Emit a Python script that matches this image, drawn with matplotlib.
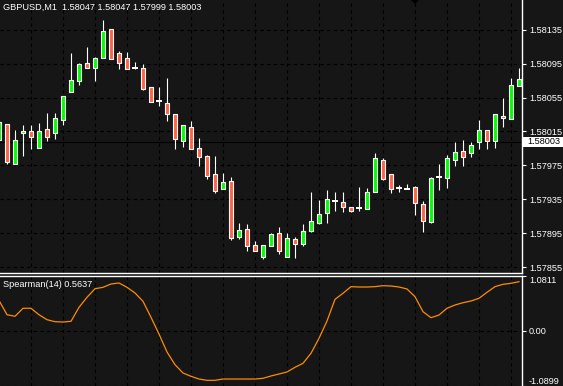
import matplotlib
matplotlib.use('Agg')
import matplotlib.pyplot as plt
from matplotlib.patches import Rectangle, Polygon
from matplotlib.transforms import blended_transform_factory
import numpy as np

plt.rcParams['font.family'] = ['Liberation Sans', 'DejaVu Sans']

symbol_title = "GBPUSD,M1  1.58047 1.58047 1.57999 1.58003"
indicator_title = "Spearman(14) 0.5637"
bid_price = 1.58003
bid_label = "1.58003"

opens = [1.58005, 1.58024, 1.57977, 1.58013, 1.58016, 1.57996, 1.58018, 1.58013, 1.58029, 1.58061,
         1.58075, 1.58096, 1.58090, 1.58102, 1.58136, 1.58107, 1.58101, 1.58090, 1.58090, 1.58067,
         1.58051, 1.58049, 1.58036, 1.58004, 1.58020, 1.57996, 1.57986, 1.57965, 1.57947, 1.57957,
         1.57890, 1.57900, 1.57881, 1.57867, 1.57880, 1.57895, 1.57867, 1.57888, 1.57882, 1.57898,
         1.57907, 1.57919, 1.57933, 1.57932, 1.57926, 1.57925, 1.57923, 1.57944, 1.57981, 1.57965,
         1.57948, 1.57947, 1.57950, 1.57929, 1.57908, 1.57961, 1.57960, 1.57981, 1.57992, 1.57989,
         1.58002, 1.58017, 1.58004, 1.58033, 1.58030, 1.58068]
highs = [1.58027, 1.58024, 1.58017, 1.58023, 1.58023, 1.58025, 1.58037, 1.58037, 1.58057, 1.58108,
         1.58096, 1.58115, 1.58103, 1.58147, 1.58136, 1.58110, 1.58109, 1.58097, 1.58094, 1.58067,
         1.58067, 1.58078, 1.58036, 1.58023, 1.58027, 1.58007, 1.57987, 1.57986, 1.57966, 1.57961,
         1.57907, 1.57906, 1.57886, 1.57881, 1.57895, 1.57902, 1.57895, 1.57890, 1.57906, 1.57944,
         1.57934, 1.57946, 1.57944, 1.57944, 1.57926, 1.57950, 1.57948, 1.57990, 1.57984, 1.57965,
         1.57952, 1.57953, 1.57951, 1.57933, 1.57961, 1.57976, 1.57987, 1.58003, 1.58005, 1.58002,
         1.58029, 1.58017, 1.58036, 1.58054, 1.58078, 1.58090]
lows = [1.58004, 1.57976, 1.57977, 1.57986, 1.57994, 1.57996, 1.58004, 1.58006, 1.58022, 1.58061,
        1.58070, 1.58090, 1.58075, 1.58102, 1.58100, 1.58089, 1.58089, 1.58089, 1.58064, 1.58050,
        1.58045, 1.58027, 1.57994, 1.57997, 1.57994, 1.57974, 1.57959, 1.57942, 1.57947, 1.57887,
        1.57888, 1.57874, 1.57874, 1.57864, 1.57880, 1.57870, 1.57867, 1.57866, 1.57880, 1.57896,
        1.57906, 1.57907, 1.57921, 1.57920, 1.57920, 1.57921, 1.57923, 1.57944, 1.57958, 1.57942,
        1.57944, 1.57947, 1.57916, 1.57896, 1.57907, 1.57946, 1.57948, 1.57974, 1.57974, 1.57985,
        1.57994, 1.57994, 1.57996, 1.58020, 1.58030, 1.58068]
closes = [1.58026, 1.57979, 1.58005, 1.58016, 1.58009, 1.58016, 1.58009, 1.58031, 1.58057, 1.58076,
          1.58095, 1.58090, 1.58102, 1.58133, 1.58101, 1.58096, 1.58089, 1.58090, 1.58065, 1.58050,
          1.58051, 1.58035, 1.58006, 1.58023, 1.57994, 1.57985, 1.57963, 1.57945, 1.57955, 1.57889,
          1.57899, 1.57880, 1.57874, 1.57881, 1.57894, 1.57874, 1.57889, 1.57882, 1.57898, 1.57909,
          1.57918, 1.57935, 1.57933, 1.57926, 1.57921, 1.57925, 1.57944, 1.57984, 1.57959, 1.57947,
          1.57948, 1.57947, 1.57931, 1.57909, 1.57960, 1.57961, 1.57984, 1.57991, 1.57985, 1.57999,
          1.58017, 1.58004, 1.58035, 1.58031, 1.58070, 1.58077]
spearman = [0.600, 0.317, 0.286, 0.444, 0.444, 0.317, 0.219, 0.179, 0.173, 0.187,
            0.463, 0.661, 0.830, 0.858, 0.923, 0.943, 0.858, 0.746, 0.582, 0.266,
            -0.064, -0.419, -0.669, -0.833, -0.899, -0.952, -0.978, -0.978, -0.952, -0.952,
            -0.952, -0.952, -0.952, -0.938, -0.892, -0.853, -0.813, -0.721, -0.642, -0.444,
            -0.149, 0.193, 0.621, 0.740, 0.871, 0.864, 0.864, 0.871, 0.890, 0.884,
            0.864, 0.825, 0.673, 0.377, 0.258, 0.311, 0.444, 0.509, 0.554, 0.588,
            0.641, 0.759, 0.871, 0.917, 0.937, 0.969]

price_ticks = [1.58135, 1.58095, 1.58055, 1.58015, 1.57975, 1.57935, 1.57895, 1.57855]
ind_ticks = [1.0811, 0.0, -1.0899]
ind_tick_labels = ['1.0811', '0.00', '-1.0899']

BG = '#161616'
UP = '#00ff00'
DOWN = '#ff6347'
FS = 6.6

W, H = 563, 386
fig = plt.figure(figsize=(W / 100, H / 100), dpi=100, facecolor=BG)
ax = fig.add_axes([0, (H - 273) / H, 522 / W, 273 / H], facecolor=BG)
ax2 = fig.add_axes([0, 0, 522 / W, (H - 276) / H], facecolor=BG)

n = len(opens)
x = np.arange(n)

for a in (ax, ax2):
    a.set_xlim(0.125, 65.375)
    a.set_xticks(np.arange(4, n, 4))
    a.tick_params(axis='x', length=0, labelbottom=False)
    a.grid(True, color='black', linestyle=(0, (3, 3)), linewidth=0.8)
    a.set_axisbelow(True)
    for s in a.spines.values():
        s.set_visible(False)
    a.spines['right'].set_visible(True)
    a.spines['right'].set_color('white')
    a.spines['right'].set_linewidth(1.0)
    a.yaxis.tick_right()
    a.tick_params(axis='y', colors='white', length=3, width=0.8, pad=2, labelsize=FS, direction='out')

ax.spines['bottom'].set_visible(True)
ax.spines['bottom'].set_color('white')
ax.spines['bottom'].set_linewidth(1.0)
ax2.spines['top'].set_visible(True)
ax2.spines['top'].set_color('white')
ax2.spines['top'].set_linewidth(1.0)

# price panel
ax.set_ylim(1.57848, 1.58170)
ax.set_yticks(price_ticks)
ax.set_yticklabels(['%.5f' % p for p in price_ticks])

o = np.array(opens); c = np.array(closes); h = np.array(highs); l = np.array(lows)
ax.vlines(x, l, h, color='white', linewidth=0.8, zorder=2)
body = o != c
colors = [UP if cc > oo else DOWN for oo, cc in zip(o[body], c[body])]
ax.bar(x[body], np.abs(c - o)[body], bottom=np.minimum(o, c)[body], width=0.55,
       color=colors, edgecolor='white', linewidth=0.8, zorder=3)
doji = ~body
ax.hlines(o[doji], x[doji] - 0.33, x[doji] + 0.33, color='white', linewidth=1.4, zorder=3)

ax.axhline(bid_price, color='black', linewidth=0.8, zorder=1)
bt = blended_transform_factory(ax.transAxes, ax.transData)
ax.add_patch(Rectangle((1.002, bid_price - 0.000059), 0.08, 0.000118, transform=bt,
                       facecolor='white', edgecolor='none', clip_on=False, zorder=5))
ax.text(1.0 + 5 / 522, bid_price, bid_label, transform=bt, color='black', fontsize=FS,
        va='center', ha='left', zorder=6, clip_on=False)

tri_t = blended_transform_factory(ax.transData, ax.transAxes)
ax.add_patch(Polygon([(51.5, 1.0), (52.5, 1.0), (52.0, 0.985)], closed=True,
                     transform=tri_t, facecolor='black', edgecolor='none', zorder=4))

ax.text(3 / 522, 1 - 2.5 / 273, symbol_title, transform=ax.transAxes, color='white',
        fontsize=FS, va='top', ha='left')

# indicator panel
ax2.set_ylim(-1.0899, 1.0811)
ax2.set_yticks(ind_ticks)
ax2.set_yticklabels(ind_tick_labels)
labs = ax2.get_yticklabels()
labs[0].set_va('top')
labs[-1].set_va('bottom')
ax2.plot(x, spearman, color='#ff8c00', linewidth=0.9, zorder=3)
ax2.text(3 / 522, 1 - 4 / 110, indicator_title, transform=ax2.transAxes, color='white',
         fontsize=FS, va='top', ha='left')

fig.savefig('out.png', dpi=100, facecolor=BG)
